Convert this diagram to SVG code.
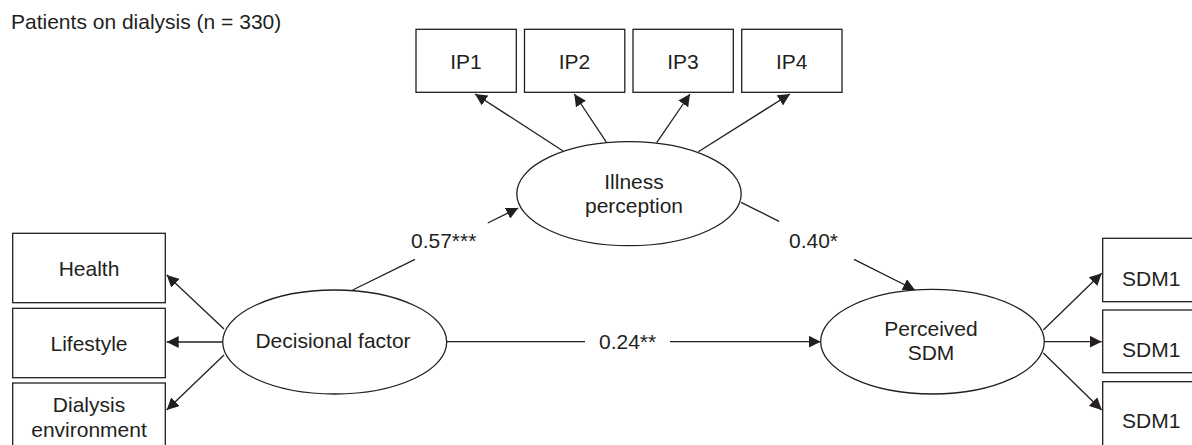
<svg xmlns="http://www.w3.org/2000/svg" width="1192" height="445" viewBox="0 0 1192 445">
  <defs>
    <style>
      text { font-family: "Liberation Sans", Arial, sans-serif; font-size: 21px; fill: #231f20; }
      .c { text-anchor: middle; }
      .box { fill: #ffffff; stroke: #231f20; stroke-width: 1.3; }
      .lat { fill: #ffffff; stroke: #231f20; stroke-width: 1.3; }
      .edge { fill: none; stroke: #231f20; stroke-width: 1.3; }
      .arr { marker-end: url(#head); }
    </style>
    <marker id="head" markerUnits="userSpaceOnUse" markerWidth="13" markerHeight="12" refX="12" refY="6" orient="auto">
      <path d="M0,0 L12,6 L0,12 Z" fill="#231f20"/>
    </marker>
  </defs>

  <rect width="1192" height="445" fill="#ffffff"/>

  <text id="title" x="11" y="29">Patients on dialysis (n = 330)</text>

  <!-- connectors -->
  <g id="connectors">
    <!-- Illness perception to indicators -->
    <line class="edge arr" x1="562.7" y1="150.7" x2="475" y2="94"/>
    <line class="edge arr" x1="606.7" y1="142.7" x2="574.3" y2="94"/>
    <line class="edge arr" x1="656.7" y1="142.7" x2="690" y2="94"/>
    <line class="edge arr" x1="698.3" y1="151.7" x2="790" y2="94"/>
    <!-- Decisional factor to indicators -->
    <line class="edge arr" x1="224" y1="329" x2="166.7" y2="275"/>
    <line class="edge arr" x1="222.7" y1="342" x2="166.7" y2="342"/>
    <line class="edge arr" x1="224" y1="355" x2="166.7" y2="410"/>
    <!-- Perceived SDM to indicators -->
    <line class="edge arr" x1="1043.3" y1="330" x2="1101.7" y2="273.3"/>
    <line class="edge arr" x1="1044.3" y1="341.7" x2="1101.7" y2="341.7"/>
    <line class="edge arr" x1="1043.3" y1="353" x2="1101.7" y2="410"/>
    <!-- Decisional factor to Illness perception (0.57***) -->
    <line class="edge" x1="352.7" y1="290" x2="415" y2="259.3"/>
    <line class="edge arr" x1="487.7" y1="223" x2="518.3" y2="208"/>
    <text x="411" y="248">0.57***</text>
    <!-- Illness perception to Perceived SDM (0.40*) -->
    <line class="edge" x1="741" y1="202.3" x2="779" y2="221.3"/>
    <line class="edge arr" x1="854" y1="259.3" x2="915" y2="290"/>
    <text x="789" y="248">0.40*</text>
    <!-- Decisional factor to Perceived SDM (0.24**) -->
    <line class="edge" x1="446.7" y1="341.7" x2="585" y2="341.7"/>
    <line class="edge arr" x1="670" y1="341.7" x2="820.7" y2="341.7"/>
    <text x="599" y="349">0.24**</text>
  </g>

  <!-- indicators of illness perception -->
  <g id="ip1"><rect class="box" x="416" y="29.3" width="100.3" height="63"/><text class="c" x="466" y="69">IP1</text></g>
  <g id="ip2"><rect class="box" x="524.5" y="29.3" width="100.3" height="63"/><text class="c" x="574.5" y="69">IP2</text></g>
  <g id="ip3"><rect class="box" x="633" y="29.3" width="100.3" height="63"/><text class="c" x="683" y="69">IP3</text></g>
  <g id="ip4"><rect class="box" x="741.7" y="29.3" width="100.3" height="63"/><text class="c" x="791.7" y="69">IP4</text></g>

  <!-- latent variables -->
  <g id="illness-perception">
    <ellipse class="lat" cx="629" cy="193.7" rx="112.2" ry="52"/>
    <text class="c" x="634" y="189">Illness</text>
    <text class="c" x="634" y="213.3">perception</text>
  </g>
  <g id="decisional-factor">
    <ellipse class="lat" cx="334.7" cy="342" rx="112" ry="52"/>
    <text class="c" x="333" y="348.3">Decisional factor</text>
  </g>
  <g id="perceived-sdm">
    <ellipse class="lat" cx="932.5" cy="341.7" rx="111.8" ry="52.3"/>
    <text class="c" x="931" y="335.7">Perceived</text>
    <text class="c" x="931" y="360">SDM</text>
  </g>

  <!-- indicators of decisional factor -->
  <g id="health"><rect class="box" x="12.7" y="233.3" width="152.6" height="69.4"/><text class="c" x="89" y="276">Health</text></g>
  <g id="lifestyle"><rect class="box" x="12.7" y="308.3" width="152.6" height="69.4"/><text class="c" x="89" y="351">Lifestyle</text></g>
  <g id="dialysis-environment"><rect class="box" x="12.7" y="383" width="152.6" height="80"/><text class="c" x="89" y="411.7">Dialysis</text><text class="c" x="89" y="436.7">environment</text></g>

  <!-- indicators of perceived SDM -->
  <g id="sdm-a"><rect class="box" x="1102.7" y="238.3" width="100" height="63.4"/><text x="1122" y="286.3">SDM1</text></g>
  <g id="sdm-b"><rect class="box" x="1102.7" y="310" width="100" height="62.7"/><text x="1122" y="357.3">SDM1</text></g>
  <g id="sdm-c"><rect class="box" x="1102.7" y="381.7" width="100" height="80"/><text x="1122" y="428.3">SDM1</text></g>
</svg>
